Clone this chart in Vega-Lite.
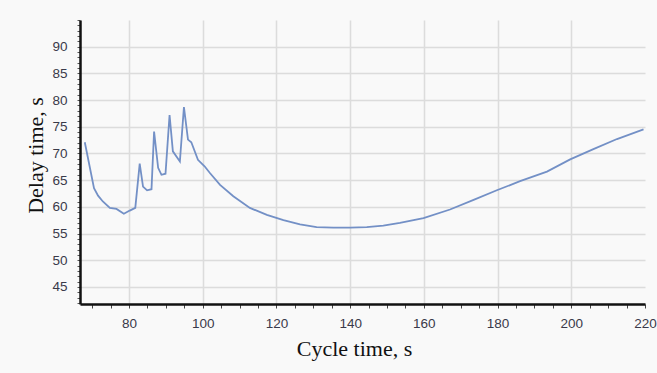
{
  "$schema": "https://vega.github.io/schema/vega-lite/v6.json",
  "width": 565,
  "height": 284,
  "autosize": "none",
  "padding": {"left": 80, "top": 20, "right": 12, "bottom": 69},
  "background": "#f9f9f9",
  "config": {"view": {"stroke": null}},
  "data": {"values": [
    {"c": 68.0, "d": 72.1}, {"c": 70.5, "d": 63.5}, {"c": 71.6, "d": 62.1}, {"c": 72.9, "d": 61.0},
    {"c": 74.8, "d": 59.8}, {"c": 76.6, "d": 59.6}, {"c": 78.6, "d": 58.7}, {"c": 80.2, "d": 59.3},
    {"c": 81.7, "d": 59.8}, {"c": 82.9, "d": 68.1}, {"c": 83.8, "d": 63.8}, {"c": 84.9, "d": 63.1},
    {"c": 86.1, "d": 63.3}, {"c": 86.8, "d": 74.1}, {"c": 87.9, "d": 67.3}, {"c": 88.8, "d": 66.0},
    {"c": 89.9, "d": 66.2}, {"c": 91.0, "d": 77.2}, {"c": 91.9, "d": 70.4}, {"c": 93.8, "d": 68.5},
    {"c": 94.9, "d": 78.7}, {"c": 96.0, "d": 72.6}, {"c": 96.9, "d": 72.1}, {"c": 98.7, "d": 68.8},
    {"c": 100.5, "d": 67.6}, {"c": 102.0, "d": 66.3}, {"c": 104.7, "d": 64.1}, {"c": 108.3, "d": 62.0},
    {"c": 112.8, "d": 59.8}, {"c": 117.4, "d": 58.5}, {"c": 121.9, "d": 57.5}, {"c": 126.4, "d": 56.7},
    {"c": 130.9, "d": 56.2}, {"c": 135.4, "d": 56.1}, {"c": 140.0, "d": 56.1}, {"c": 144.5, "d": 56.2},
    {"c": 149.0, "d": 56.5}, {"c": 153.5, "d": 57.0}, {"c": 159.9, "d": 57.9}, {"c": 167.1, "d": 59.5},
    {"c": 173.5, "d": 61.3}, {"c": 179.8, "d": 63.1}, {"c": 186.1, "d": 64.8}, {"c": 193.4, "d": 66.6},
    {"c": 199.7, "d": 68.9}, {"c": 206.0, "d": 70.8}, {"c": 212.4, "d": 72.7}, {"c": 219.6, "d": 74.5}
  ]},
  "mark": {"type": "line", "color": "#7390c6", "strokeWidth": 1.8, "clip": true},
  "encoding": {
    "x": {
      "field": "c", "type": "quantitative",
      "scale": {"domain": [66.7, 220], "nice": false, "zero": false},
      "axis": {
        "title": "Cycle time, s",
        "titleFont": "Liberation Serif", "titleFontSize": 22, "titleFontWeight": "normal", "titleColor": "#111",
        "titlePadding": 9, "titleX": 274,
        "values": [70,75,80,85,90,95,100,105,110,115,120,125,130,135,140,145,150,155,160,165,170,175,180,185,190,195,200,205,210,215,220],
        "labelExpr": "datum.value % 20 === 0 ? datum.label : ''",
        "labelFlush": false, "labelOverlap": false,
        "labelFont": "Liberation Sans", "labelFontSize": 13.5, "labelColor": "#3a3a4a", "labelPadding": 8,
        "domainColor": "#111", "domainWidth": 2.5,
        "tickColor": "#444", "tickSize": 4, "tickWidth": 1,
        "grid": true, "gridColor": "#dcdcdc", "gridWidth": 1.6,
        "gridOpacity": {"condition": {"test": "datum.value % 20 === 0 && datum.value < 220", "value": 1}, "value": 0}
      }
    },
    "y": {
      "field": "d", "type": "quantitative",
      "scale": {"domain": [41.8, 95], "nice": false, "zero": false},
      "axis": {
        "title": "Delay time, s",
        "titleFont": "Liberation Serif", "titleFontSize": 22, "titleFontWeight": "normal", "titleColor": "#111",
        "titlePadding": 4, "titleY": 135,
        "values": [42,43,44,45,46,47,48,49,50,51,52,53,54,55,56,57,58,59,60,61,62,63,64,65,66,67,68,69,70,71,72,73,74,75,76,77,78,79,80,81,82,83,84,85,86,87,88,89,90,91,92,93,94,95],
        "labelExpr": "datum.value % 5 === 0 && datum.value >= 45 && datum.value <= 90 ? datum.label : ''",
        "labelFlush": false, "labelOverlap": false,
        "labelFont": "Liberation Sans", "labelFontSize": 13.5, "labelColor": "#3a3a4a", "labelPadding": 10,
        "domainColor": "#111", "domainWidth": 2.5,
        "tickColor": "#555", "tickSize": 3, "tickWidth": 1,
        "grid": true, "gridColor": "#dcdcdc", "gridWidth": 1.6,
        "gridOpacity": {"condition": {"test": "datum.value % 5 === 0 && datum.value >= 45 && datum.value <= 90", "value": 1}, "value": 0}
      }
    }
  }
}
